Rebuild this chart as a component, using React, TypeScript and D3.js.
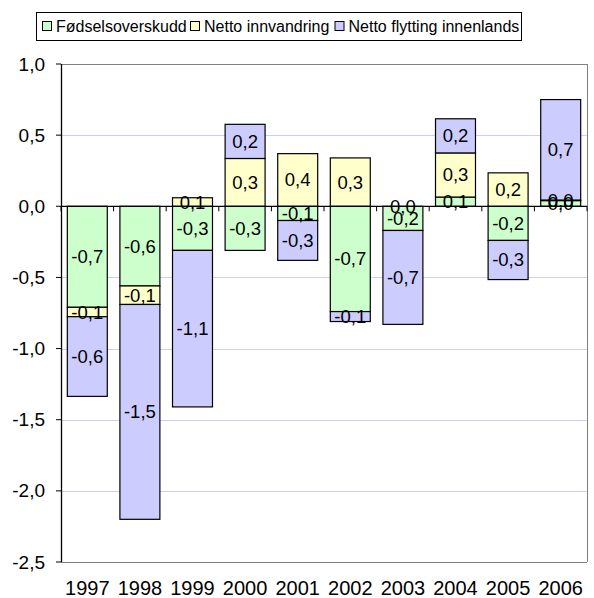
import React from "react";
import * as d3 from "d3";

const years = ["1997", "1998", "1999", "2000", "2001", "2002", "2003", "2004", "2005", "2006"];
const seriesNames = ["Fødselsoverskudd", "Netto innvandring", "Netto flytting innenlands"];
const fodsel = [-0.71, -0.56, -0.31, -0.31, -0.1, -0.74, -0.17, 0.065, -0.24, 0.04];
const innvandring = [-0.066, -0.13, 0.06, 0.336, 0.37, 0.34, 0.0, 0.31, 0.235, 0.004];
const flytting = [-0.56, -1.51, -1.1, 0.24, -0.28, -0.07, -0.66, 0.24, -0.275, 0.706];
const yTicks = [1.0, 0.5, 0.0, -0.5, -1.0, -1.5, -2.0, -2.5];
const colors = ["#ccffcc", "#ffffcc", "#ccccff"];

const W = 594, H = 598;
const left = 61, right = 587, top = 64, bottom = 562;

const fmt = (v: number) => d3.format(".1f")(v).replace(".", ",").replace("−", "-");

export default function App() {
  const keys = ["g", "y", "p"];
  const rows = years.map((yr, i) => ({ year: yr, g: fodsel[i], y: innvandring[i], p: flytting[i] }));
  const stacked = d3.stack<any>().keys(keys).offset(d3.stackOffsetDiverging)(rows);

  const x = d3.scaleBand<string>().domain(years).range([left, right]).paddingInner(0.24).paddingOuter(0.12);
  const yS = d3.scaleLinear().domain([-2.5, 1]).range([bottom, top]);
  const step = (right - left) / years.length;
  const font = "Arial, 'Liberation Sans', sans-serif";

  const legendItems = [
    { sq: 42, tx: 56 },
    { sq: 190, tx: 204 },
    { sq: 334.5, tx: 348.5 },
  ];

  return (
    <svg width={W} height={H} style={{ position: "absolute", left: 0, top: 0, fontFamily: font }}>
      <rect x={0} y={0} width={W} height={H} fill="#fff" />
      {/* gridlines */}
      {yTicks.filter((t) => t !== 0 && t !== 1 && t !== -2.5).map((t) => (
        <line key={"g" + t} x1={left} x2={right} y1={Math.round(yS(t)) + 0.5} y2={Math.round(yS(t)) + 0.5} stroke="#ccccff" strokeWidth={1} />
      ))}
      {/* plot border */}
      <line x1={left} x2={right} y1={top + 0.5} y2={top + 0.5} stroke="#808080" />
      <line x1={right + 0.5} x2={right + 0.5} y1={top} y2={bottom} stroke="#808080" />
      <line x1={left} x2={right} y1={bottom + 0.5} y2={bottom + 0.5} stroke="#808080" />
      {/* bars */}
      {stacked.map((s, si) =>
        s.map((d, i) => {
          const y0 = yS(Math.max(d[0], d[1]));
          const y1 = yS(Math.min(d[0], d[1]));
          return (
            <rect key={si + "-" + i} x={x(years[i])!} y={y0} width={x.bandwidth()} height={Math.max(0, y1 - y0)}
              fill={colors[si]} stroke="#000" strokeWidth={1.2} />
          );
        })
      )}
      {/* zero axis */}
      <line x1={left} x2={right} y1={yS(0)} y2={yS(0)} stroke="#000" strokeWidth={1.3} />
      {d3.range(years.length + 1).map((i) => (
        <line key={"xt" + i} x1={left + i * step} x2={left + i * step} y1={yS(0)} y2={yS(0) + 5} stroke="#000" />
      ))}
      {/* y axis */}
      <line x1={left + 0.5} x2={left + 0.5} y1={top} y2={bottom} stroke="#000" strokeWidth={1.3} />
      {yTicks.map((t) => (
        <g key={"yt" + t}>
          <line x1={left - 5} x2={left} y1={yS(t)} y2={yS(t)} stroke="#000" />
          <text x={45} y={yS(t)} textAnchor="end" dominantBaseline="central" fontSize={19} fill="#000">
            {fmt(t)}
          </text>
        </g>
      ))}
      {/* labels */}
      {stacked.map((s, si) =>
        s.map((d, i) => {
          const v = [fodsel, innvandring, flytting][si][i];
          const cy = yS((d[0] + d[1]) / 2);
          return (
            <text key={"l" + si + "-" + i} x={x(years[i])! + x.bandwidth() / 2} y={cy} textAnchor="middle"
              dominantBaseline="central" fontSize={18.5} fill="#000">
              {fmt(v)}
            </text>
          );
        })
      )}
      {/* x labels */}
      {years.map((yr) => (
        <text key={"x" + yr} x={x(yr)! + x.bandwidth() / 2} y={588} textAnchor="middle" dominantBaseline="central" fontSize={20} fill="#000">
          {yr}
        </text>
      ))}
      {/* legend */}
      <rect x={36.5} y={12.5} width={485} height={28} fill="#fff" stroke="#000" />
      {seriesNames.map((n, i) => (
        <g key={"lg" + i}>
          <rect x={legendItems[i].sq + 0.5} y={21.5} width={9} height={9} fill={colors[i]} stroke="#000" />
          <text x={legendItems[i].tx} y={26.5} dominantBaseline="central" fontSize={16} fill="#000">
            {n}
          </text>
        </g>
      ))}
    </svg>
  );
}
